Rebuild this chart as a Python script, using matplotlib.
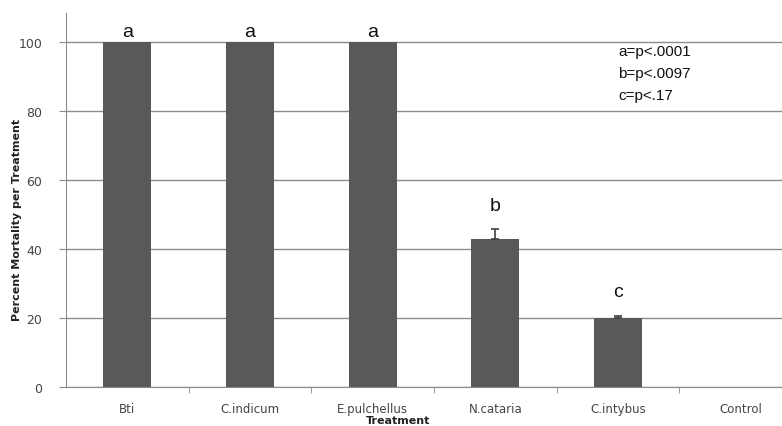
import matplotlib.pyplot as plt
import numpy as np

treatments = ['Bti', 'C.indicum', 'E.pulchellus', 'N.cataria', 'C.intybus', 'Control']
mortality = [100, 100, 100, 43, 20, 0]
errors = [0, 0, 0, 2.7, 0.6, 0]
letters = ['a', 'a', 'a', 'b', 'c', '']
pvals = ['a=p<.0001', 'b=p<.0097', 'c=p<.17']
yticks = [0, 20, 40, 60, 80, 100]

fig = plt.figure(figsize=(7.82, 4.27), dpi=100)
# axes slightly wider than the figure: right side of plot is cropped in the original
ax = fig.add_axes([66 / 782, 1 - 388 / 427, 736 / 782, 374 / 427])

x = np.arange(len(treatments))
ax.bar(x, mortality, width=0.39, color='#595959', zorder=3)
has_err = [i for i, e in enumerate(errors) if e > 0]
ax.errorbar(x[has_err], [mortality[i] for i in has_err],
            yerr=[np.zeros(len(has_err)), [errors[i] for i in has_err]], fmt='none',
            ecolor='#404040', elinewidth=1.2, capsize=3, capthick=1.2, zorder=4)

for xi, v, e, lab in zip(x, mortality, errors, letters):
    if lab:
        off = 0.6 if v >= 100 else 4.5
        ax.text(xi, v + e + off, lab, ha='center', va='bottom',
                fontsize=14, family='Liberation Sans', color='#111111')

ax.set_xlim(-0.5, 5.5)
ax.set_ylim(0, 108.4)
ax.set_yticks(yticks)
ax.set_yticklabels([str(t) for t in yticks], fontsize=9, color='#444444')
ax.yaxis.grid(True, color='#8c8c8c', linewidth=1.0, zorder=0)
ax.set_axisbelow(True)

ax.set_xticks(x)
ax.set_xticklabels(treatments, fontsize=8.5, color='#444444')
ax.set_xticks(np.arange(0.5, 5.5, 1.0), minor=True)
ax.tick_params(axis='x', which='major', length=0, pad=11)
ax.tick_params(axis='x', which='minor', length=4, color='#8c8c8c', direction='out')
ax.tick_params(axis='y', length=5, color='#8c8c8c', direction='out', pad=12)

for s in ['top', 'right']:
    ax.spines[s].set_visible(False)
ax.spines['left'].set_color('#8c8c8c')
ax.spines['bottom'].set_color('#8c8c8c')

fig.text(398 / 782, 1 - 421 / 427, 'Treatment', ha='center', va='center',
         fontsize=8, fontweight='bold', color='#222222')
fig.text(17 / 782, 1 - 220 / 427, 'Percent Mortality per Treatment', ha='center',
         va='center', rotation=90, fontsize=8, fontweight='bold', color='#222222')

for i, t in enumerate(pvals):
    fig.text(618 / 782, 1 - (52 + 22 * i) / 427, t, ha='left', va='center',
             fontsize=11, family='Liberation Sans', color='#111111')

fig.savefig('out.png', dpi=100)
